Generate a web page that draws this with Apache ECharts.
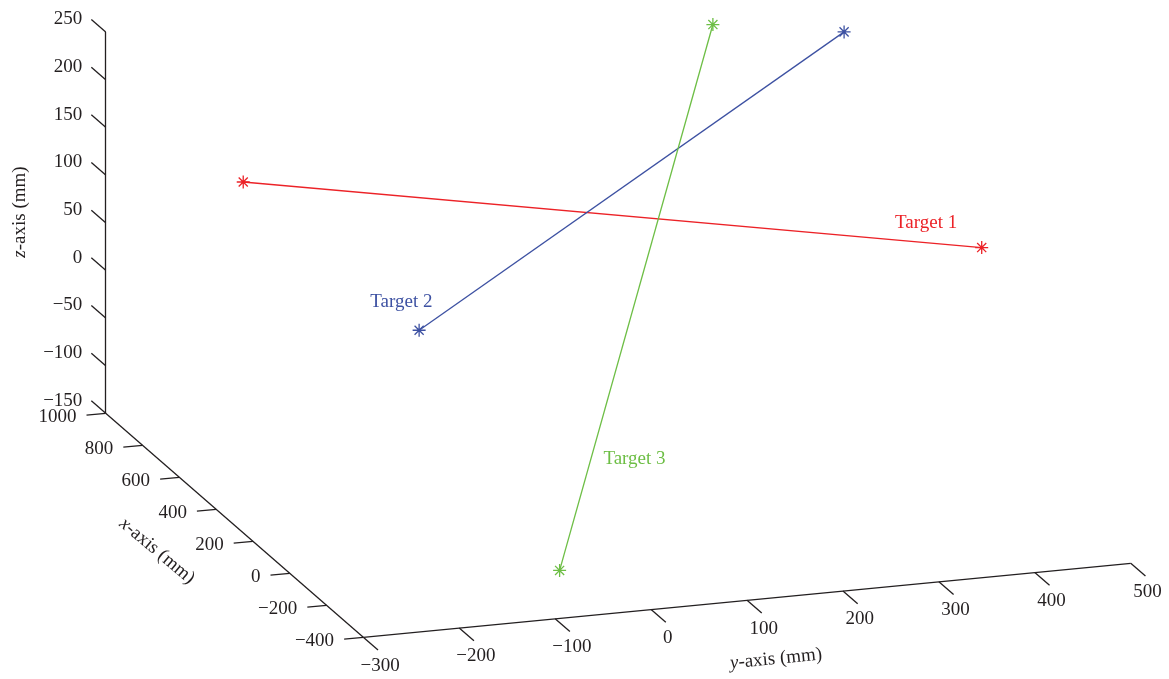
<!DOCTYPE html>
<html lang="en">
  <head>
    <meta charset="UTF-8" />
    <title>Target trajectories</title>
    <script src="https://cdn.jsdelivr.net/npm/echarts@6/dist/echarts.min.js"></script>
    <style>
      body {
        margin: 0;
        background-color: #ffffff;
      }

      #chart {
        width: 1169px;
        height: 679px;
      }
    </style>
  </head>
  <body>
    <div id="chart"></div>
    <script>
      // tick values of the three axes (mm)
      var xTicks = [1000, 800, 600, 400, 200, 0, -200, -400];
      var yTicks = [-300, -200, -100, 0, 100, 200, 300, 400, 500];
      var zTicks = [250, 200, 150, 100, 50, 0, -50, -100, -150];

      // start and end of each target line (mm)
      var targetNames = ["Target 1", "Target 2", "Target 3"];
      var targetX = [[800, -200], [600, 600], [-200, 750]];
      var targetY = [[-195, 383], [-50, 393], [-57, 285]];
      var targetZ = [[116, 159], [-20, 250], [-137, 243]];

      // where the text of each target sits (mm)
      var labelX = [0, 0, 0];
      var labelY = [331, -216, 27];
      var labelZ = [156, 126, -62];

      var colors = ["#ec2227", "#3d51a2", "#6dbe45"];
      var ink = "#231f20";
      var font = "'Liberation Serif', 'DejaVu Serif', serif";

      // view of the box: corner (-400, -300, -150) and one step per mm
      var origin = [363.3, 637.3];
      var ex = [-0.184, -0.16];
      var ey = [0.9593, -0.0925];
      var ez = [0, -0.9533];

      function proj(x, y, z) {
        var dx = x + 400,
          dy = y + 300,
          dz = z + 150;
        return [
          origin[0] + dx * ex[0] + dy * ey[0] + dz * ez[0],
          origin[1] + dx * ex[1] + dy * ey[1] + dz * ez[1],
        ];
      }

      var chart = echarts.init(document.getElementById("chart"));

      // axis lines
      var axisSegs = [
        [proj(1000, -300, -150), proj(1000, -300, 250)],
        [proj(1000, -300, -150), proj(-400, -300, -150)],
        [proj(-400, -300, -150), proj(-400, 500, -150)],
      ];

      // tick marks and tick label anchors
      var tickSegs = [];
      var zLab = [],
        xLab = [],
        yLab = [];
      zTicks.forEach(function (v) {
        var a = proj(1000, -300, v),
          b = proj(1078, -300, v);
        tickSegs.push({ coords: [a, b] });
        zLab.push({ value: b, name: String(v) });
      });
      xTicks.forEach(function (v) {
        var a = proj(v, -300, -150),
          b = proj(v, -320, -150);
        tickSegs.push({ coords: [a, b] });
        xLab.push({ value: b, name: String(v) });
      });
      yTicks.forEach(function (v) {
        var a = proj(-400, v, -150),
          b = proj(-480, v, -150);
        tickSegs.push({ coords: [a, b] });
        yLab.push({ value: b, name: String(v) });
      });

      function fmt(p) {
        return p.name.replace("-", "\u2212");
      }

      var tickLabel = { color: ink, fontFamily: font, fontSize: 19, opacity: 1 };
      var solid = { opacity: 1 };

      var series = [
        {
          type: "lines",
          coordinateSystem: "cartesian2d",
          data: axisSegs.map(function (s) {
            return { coords: s };
          }),
          lineStyle: { color: ink, width: 1.3, opacity: 1 },
          silent: true,
        },
        {
          type: "lines",
          coordinateSystem: "cartesian2d",
          data: tickSegs,
          lineStyle: { color: ink, width: 1.3, opacity: 1 },
          silent: true,
        },
        {
          type: "scatter",
          data: zLab,
          symbolSize: 0,
          itemStyle: solid,
          label: Object.assign({ show: true, position: "left", distance: 9, formatter: fmt }, tickLabel),
        },
        {
          type: "scatter",
          data: xLab,
          symbolSize: 0,
          itemStyle: solid,
          label: Object.assign({ show: true, position: "left", distance: 10, offset: [0, 2], formatter: fmt }, tickLabel),
        },
        {
          type: "scatter",
          data: yLab,
          symbolSize: 0,
          itemStyle: solid,
          label: Object.assign({ show: true, position: "bottom", distance: 6, offset: [2, 0], formatter: fmt }, tickLabel),
        },
      ];

      var star =
        "path://M0,-1L0,1M-1,0L1,0M-0.7,-0.7L0.7,0.7M-0.7,0.7L0.7,-0.7";

      targetNames.forEach(function (name, i) {
        series.push({
          type: "line",
          name: name,
          data: [
            proj(targetX[i][0], targetY[i][0], targetZ[i][0]),
            proj(targetX[i][1], targetY[i][1], targetZ[i][1]),
          ],
          symbol: star,
          symbolSize: 13,
          showAllSymbol: true,
          itemStyle: { color: colors[i], borderColor: colors[i], borderWidth: 1.3, opacity: 1 },
          lineStyle: { color: colors[i], width: 1.3 },
          silent: true,
        });
        series.push({
          type: "scatter",
          data: [{ value: proj(labelX[i], labelY[i], labelZ[i]), name: name }],
          symbolSize: 0,
          itemStyle: solid,
          label: {
            show: true,
            position: "right",
            distance: 0,
            formatter: "{b}",
            color: colors[i],
            opacity: 1,
            fontFamily: font,
            fontSize: 19,
          },
        });
      });

      function axisTitle(letter, x, y, rot) {
        return {
          type: "text",
          x: x,
          y: y,
          rotation: rot,
          style: {
            text: "{i|" + letter + "}{n|-axis (mm)}",
            align: "center",
            verticalAlign: "middle",
            fill: ink,
            rich: {
              i: { fontStyle: "italic", fontFamily: font, fontSize: 19, fill: ink },
              n: { fontFamily: font, fontSize: 19, fill: ink },
            },
          },
        };
      }

      var options = {
        animation: false,
        grid: { left: 0, right: 0, top: 0, bottom: 0 },
        xAxis: { type: "value", min: 0, max: 1169, show: false },
        yAxis: { type: "value", min: 0, max: 679, inverse: true, show: false },
        graphic: [
          axisTitle("z", 20, 212, Math.PI / 2),
          axisTitle("x", 157, 551, (-40 * Math.PI) / 180),
          axisTitle("y", 776, 659, (5.5 * Math.PI) / 180),
        ],
        series: series,
      };

      chart.setOption(options);
    </script>
  </body>
</html>
